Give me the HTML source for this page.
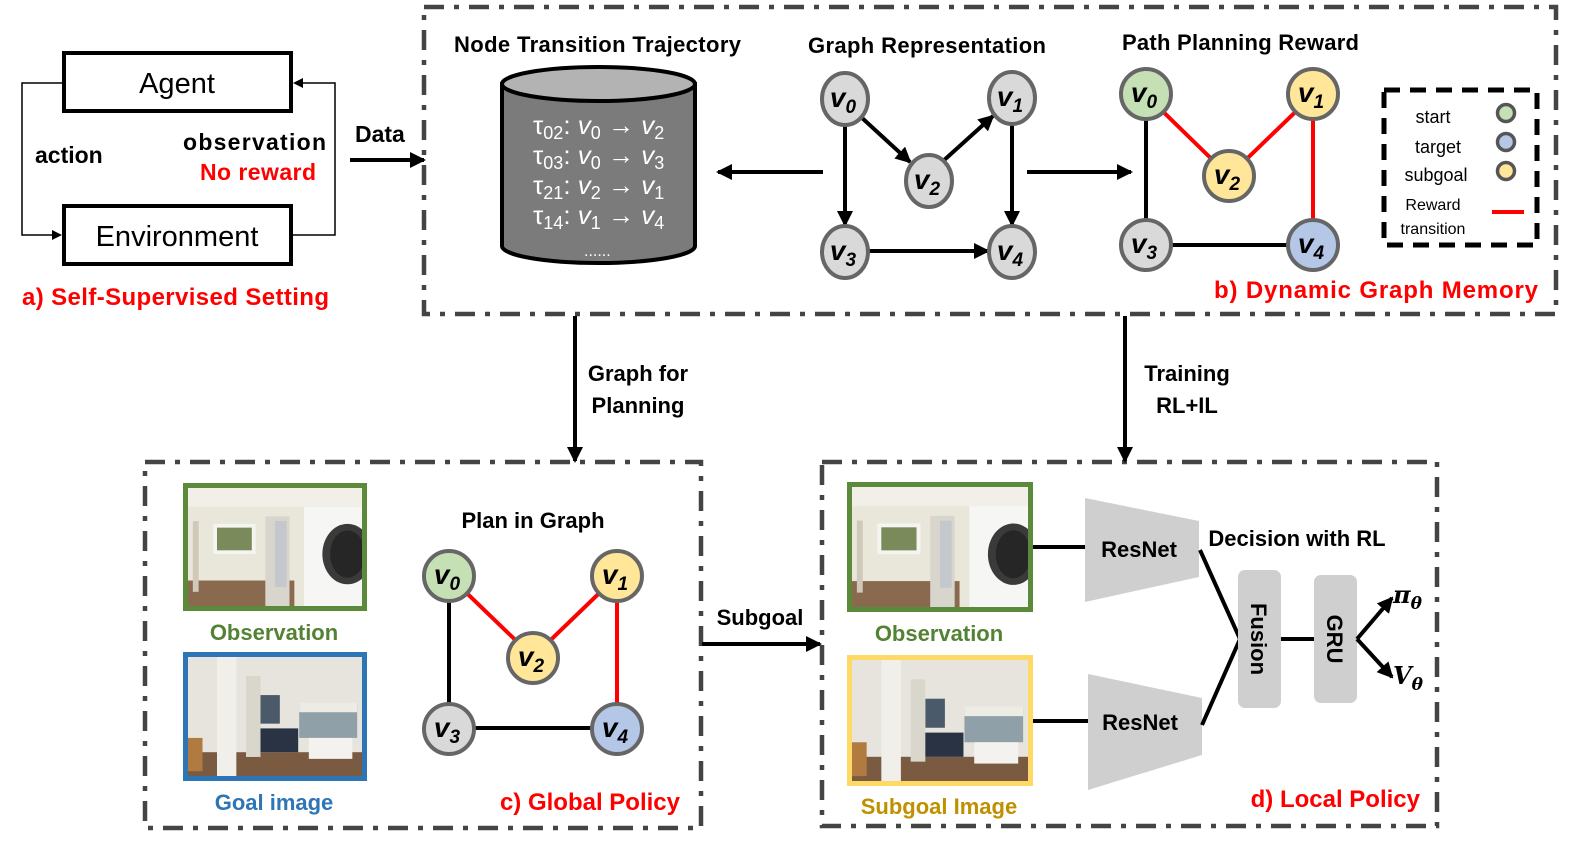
<!DOCTYPE html>
<html><head><meta charset="utf-8"><style>
html,body{margin:0;padding:0;background:#fff;}
svg{display:block;}
text{font-family:"Liberation Sans",sans-serif;}
.b{font-weight:bold;}
.nv{font-family:"DejaVu Serif","Liberation Serif",serif;font-style:italic;font-weight:bold;}
</style></head><body>
<svg width="1577" height="854" viewBox="0 0 1577 854" xmlns="http://www.w3.org/2000/svg">
<defs>
<marker id="ah" markerWidth="10" markerHeight="10" refX="8" refY="5" orient="auto" markerUnits="userSpaceOnUse">
<path d="M0,0 L10,5 L0,10 z" fill="#000"/></marker>
<marker id="ahb" markerWidth="16" markerHeight="16" refX="14" refY="8" orient="auto" markerUnits="userSpaceOnUse">
<path d="M0,0 L16,8 L0,16 z" fill="#000"/></marker>
<symbol id="obs" viewBox="0 0 180 125" preserveAspectRatio="none">
<rect width="180" height="125" fill="#e9e6da"/>
<rect x="0" y="0" width="180" height="20" fill="#f1efe8"/>
<rect x="0" y="98" width="110" height="27" fill="#8a6a4e"/>
<rect x="80" y="30" width="25" height="95" fill="#d8d6cc"/>
<rect x="90" y="35" width="12" height="70" fill="#c4c8cc"/>
<rect x="26" y="38" width="44" height="32" fill="#f4f4f0"/>
<rect x="30" y="42" width="36" height="24" fill="#7a8a5a"/>
<rect x="120" y="20" width="60" height="105" fill="#f6f6f4"/>
<ellipse cx="165" cy="70" rx="26" ry="32" fill="#3a3a3a"/>
<ellipse cx="165" cy="70" rx="18" ry="25" fill="#262626"/>
<rect x="5" y="35" width="6" height="75" fill="#d0c8b8"/>
</symbol>
<symbol id="goal" viewBox="0 0 180 125" preserveAspectRatio="none">
<rect width="180" height="125" fill="#e6e4dc"/>
<rect x="0" y="100" width="180" height="25" fill="#7a5a40"/>
<rect x="30" y="0" width="20" height="125" fill="#f0efea"/>
<rect x="0" y="85" width="15" height="35" fill="#b07a40"/>
<rect x="75" y="40" width="20" height="30" fill="#4a5a6a"/>
<rect x="115" y="50" width="60" height="35" fill="#8fa0a8"/>
<rect x="115" y="48" width="60" height="10" fill="#ecebe4"/>
<rect x="72" y="75" width="42" height="25" fill="#2a3344"/>
<rect x="125" y="85" width="45" height="22" fill="#f4f2ee"/>
<rect x="60" y="20" width="15" height="85" fill="#d9d6cc"/>
</symbol>
</defs>

<g fill="none" stroke="#444" stroke-width="4.5" stroke-dasharray="20 10 5 10">
<rect x="424" y="7" width="1132" height="307"/>
<rect x="145" y="462" width="556" height="366"/>
<rect x="822" y="462" width="615" height="364"/>
</g>

<!-- panel a -->
<rect x="64" y="53" width="227" height="58" fill="#fff" stroke="#000" stroke-width="4"/>
<text x="177" y="93" font-size="29" text-anchor="middle">Agent</text>
<rect x="64" y="206" width="227" height="58" fill="#fff" stroke="#000" stroke-width="4"/>
<text x="177" y="246" font-size="29" text-anchor="middle">Environment</text>
<polyline points="62,83 22,83 22,235 60,235" fill="none" stroke="#000" stroke-width="1.5" marker-end="url(#ah)"/>
<polyline points="293,235 335,235 335,83 295,83" fill="none" stroke="#000" stroke-width="1.5" marker-end="url(#ah)"/>
<text x="35" y="163" font-size="23" class="b">action</text>
<text x="183" y="150" font-size="23" class="b" textLength="143">observation</text>
<text x="200" y="180" font-size="23" class="b" fill="#f00" textLength="116">No reward</text>
<text x="22" y="305" font-size="24" class="b" fill="#f00" textLength="307">a) Self-Supervised Setting</text>
<line x1="350" y1="160" x2="424" y2="160" stroke="#000" stroke-width="4" marker-end="url(#ahb)"/>
<text x="355" y="142" font-size="23" class="b">Data</text>

<!-- panel b -->
<text x="454" y="52" font-size="22" class="b" textLength="287">Node Transition Trajectory</text>
<text x="808" y="53" font-size="22" class="b" textLength="238">Graph Representation</text>
<text x="1122" y="50" font-size="22" class="b" textLength="237">Path Planning Reward</text>
<path d="M502,84 L502,246 A96.5,17 0 0 0 695,246 L695,84 Z" fill="#7b7b7b" stroke="#000" stroke-width="4"/>
<ellipse cx="598.5" cy="84" rx="96.5" ry="17" fill="#b3b3b3" stroke="#000" stroke-width="4"/>
<g fill="#fff" font-family="Liberation Serif, serif" font-size="26">
<text x="533" y="134">τ<tspan font-size="18" dy="5">02</tspan><tspan dy="-5">: </tspan><tspan font-style="italic">v</tspan><tspan font-size="18" dy="5">0</tspan><tspan dy="-5"> → </tspan><tspan font-style="italic">v</tspan><tspan font-size="18" dy="5">2</tspan></text>
<text x="533" y="164">τ<tspan font-size="18" dy="5">03</tspan><tspan dy="-5">: </tspan><tspan font-style="italic">v</tspan><tspan font-size="18" dy="5">0</tspan><tspan dy="-5"> → </tspan><tspan font-style="italic">v</tspan><tspan font-size="18" dy="5">3</tspan></text>
<text x="533" y="194">τ<tspan font-size="18" dy="5">21</tspan><tspan dy="-5">: </tspan><tspan font-style="italic">v</tspan><tspan font-size="18" dy="5">2</tspan><tspan dy="-5"> → </tspan><tspan font-style="italic">v</tspan><tspan font-size="18" dy="5">1</tspan></text>
<text x="533" y="224">τ<tspan font-size="18" dy="5">14</tspan><tspan dy="-5">: </tspan><tspan font-style="italic">v</tspan><tspan font-size="18" dy="5">1</tspan><tspan dy="-5"> → </tspan><tspan font-style="italic">v</tspan><tspan font-size="18" dy="5">4</tspan></text>
<text x="584" y="256" font-size="16">......</text>
</g>
<line x1="823" y1="172" x2="718" y2="172" stroke="#000" stroke-width="4" marker-end="url(#ahb)"/>
<line x1="1027" y1="172" x2="1131" y2="172" stroke="#000" stroke-width="4" marker-end="url(#ahb)"/>

<g stroke="#000" stroke-width="4">
<line x1="845" y1="124" x2="845" y2="225" marker-end="url(#ahb)"/>
<line x1="861" y1="117" x2="910" y2="162" marker-end="url(#ahb)"/>
<line x1="942" y1="162" x2="993" y2="116" marker-end="url(#ahb)"/>
<line x1="1012" y1="124" x2="1012" y2="225" marker-end="url(#ahb)"/>
<line x1="868" y1="251" x2="988" y2="251" marker-end="url(#ahb)"/>
</g>
<g stroke="#666" stroke-width="4" fill="#d9d9d9">
<ellipse cx="845" cy="99" rx="23" ry="26"/>
<ellipse cx="1012" cy="98" rx="23" ry="26"/>
<ellipse cx="929" cy="181" rx="23" ry="26"/>
<ellipse cx="845" cy="252" rx="23" ry="26"/>
<ellipse cx="1012" cy="252" rx="23" ry="26"/>
</g>
<g class="nv" font-size="28" text-anchor="middle">
<text x="843" y="107">v<tspan font-size="19" dy="6">0</tspan></text>
<text x="1010" y="106">v<tspan font-size="19" dy="6">1</tspan></text>
<text x="927" y="189">v<tspan font-size="19" dy="6">2</tspan></text>
<text x="843" y="260">v<tspan font-size="19" dy="6">3</tspan></text>
<text x="1010" y="260">v<tspan font-size="19" dy="6">4</tspan></text>
</g>

<g stroke-width="4">
<line x1="1146" y1="95" x2="1146" y2="245" stroke="#000"/>
<line x1="1146" y1="245" x2="1313" y2="245" stroke="#000"/>
<line x1="1146" y1="95" x2="1229" y2="176" stroke="#f00"/>
<line x1="1229" y1="176" x2="1313" y2="95" stroke="#f00"/>
<line x1="1313" y1="95" x2="1313" y2="245" stroke="#f00"/>
</g>
<g stroke="#666" stroke-width="4">
<circle cx="1146" cy="94" r="25" fill="#c5e0b4"/>
<circle cx="1313" cy="94" r="25" fill="#ffe699"/>
<circle cx="1229" cy="176" r="25" fill="#ffe699"/>
<circle cx="1146" cy="245" r="25" fill="#d9d9d9"/>
<circle cx="1313" cy="245" r="25" fill="#b4c7e7"/>
</g>
<g class="nv" font-size="28" text-anchor="middle">
<text x="1144" y="102">v<tspan font-size="19" dy="6">0</tspan></text>
<text x="1311" y="102">v<tspan font-size="19" dy="6">1</tspan></text>
<text x="1227" y="184">v<tspan font-size="19" dy="6">2</tspan></text>
<text x="1144" y="253">v<tspan font-size="19" dy="6">3</tspan></text>
<text x="1311" y="253">v<tspan font-size="19" dy="6">4</tspan></text>
</g>
<rect x="1384" y="90" width="153" height="155" fill="none" stroke="#000" stroke-width="5" stroke-dasharray="16 10"/>
<g font-size="18" text-anchor="middle">
<text x="1433" y="123">start</text>
<text x="1438" y="153">target</text>
<text x="1436" y="181">subgoal</text>
<text x="1433" y="210" font-size="16">Reward</text>
<text x="1433" y="234" font-size="16">transition</text>
</g>
<g stroke="#555" stroke-width="3.5">
<circle cx="1506" cy="113" r="8.5" fill="#c5e0b4"/>
<circle cx="1506" cy="142" r="8.5" fill="#b4c7e7"/>
<circle cx="1506" cy="171" r="8.5" fill="#ffe699"/>
</g>
<line x1="1492" y1="212" x2="1524" y2="212" stroke="#f00" stroke-width="4"/>
<text x="1538" y="298" font-size="24" class="b" fill="#f00" text-anchor="end" textLength="324">b) Dynamic Graph Memory</text>

<line x1="575" y1="316" x2="575" y2="461" stroke="#000" stroke-width="4" marker-end="url(#ahb)"/>
<line x1="1125" y1="316" x2="1125" y2="461" stroke="#000" stroke-width="4" marker-end="url(#ahb)"/>
<text x="638" y="381" font-size="22" class="b" text-anchor="middle">Graph for</text>
<text x="638" y="413" font-size="22" class="b" text-anchor="middle">Planning</text>
<text x="1187" y="381" font-size="22" class="b" text-anchor="middle">Training</text>
<text x="1187" y="413" font-size="22" class="b" text-anchor="middle">RL+IL</text>

<!-- panel c -->
<rect x="183" y="483" width="184" height="128" fill="#5a8a3a"/>
<use href="#obs" x="188" y="488" width="174" height="118"/>
<text x="274" y="640" font-size="22" class="b" fill="#548235" text-anchor="middle">Observation</text>
<rect x="183" y="652" width="184" height="129" fill="#2e75b6"/>
<use href="#goal" x="188" y="657" width="174" height="119"/>
<text x="274" y="810" font-size="22" class="b" fill="#2e75b6" text-anchor="middle">Goal image</text>
<text x="533" y="528" font-size="22" class="b" text-anchor="middle">Plan in Graph</text>
<g stroke-width="4">
<line x1="449" y1="576" x2="449" y2="728" stroke="#000"/>
<line x1="449" y1="728" x2="617" y2="728" stroke="#000"/>
<line x1="449" y1="576" x2="533" y2="657" stroke="#f00"/>
<line x1="533" y1="657" x2="617" y2="576" stroke="#f00"/>
<line x1="617" y1="576" x2="617" y2="728" stroke="#f00"/>
</g>
<g stroke="#666" stroke-width="4">
<circle cx="449" cy="576" r="25" fill="#c5e0b4"/>
<circle cx="617" cy="576" r="25" fill="#ffe699"/>
<circle cx="533" cy="658" r="25" fill="#ffe699"/>
<circle cx="449" cy="729" r="25" fill="#d9d9d9"/>
<circle cx="617" cy="729" r="25" fill="#b4c7e7"/>
</g>
<g class="nv" font-size="28" text-anchor="middle">
<text x="447" y="584">v<tspan font-size="19" dy="6">0</tspan></text>
<text x="615" y="584">v<tspan font-size="19" dy="6">1</tspan></text>
<text x="531" y="666">v<tspan font-size="19" dy="6">2</tspan></text>
<text x="447" y="737">v<tspan font-size="19" dy="6">3</tspan></text>
<text x="615" y="737">v<tspan font-size="19" dy="6">4</tspan></text>
</g>
<text x="680" y="810" font-size="24" class="b" fill="#f00" text-anchor="end">c) Global Policy</text>
<line x1="702" y1="644" x2="820" y2="644" stroke="#000" stroke-width="4" marker-end="url(#ahb)"/>
<text x="760" y="625" font-size="22" class="b" text-anchor="middle">Subgoal</text>

<!-- panel d -->
<rect x="847" y="482" width="186" height="130" fill="#5a8a3a"/>
<use href="#obs" x="852" y="487" width="176" height="120"/>
<text x="939" y="641" font-size="22" class="b" fill="#548235" text-anchor="middle">Observation</text>
<rect x="847" y="655" width="186" height="131" fill="#ffd966"/>
<use href="#goal" x="852" y="660" width="176" height="121"/>
<text x="939" y="814" font-size="22" class="b" fill="#bf9000" text-anchor="middle">Subgoal Image</text>
<line x1="1033" y1="547" x2="1085" y2="547" stroke="#000" stroke-width="4"/>
<line x1="1033" y1="721" x2="1088" y2="721" stroke="#000" stroke-width="4"/>
<polygon points="1085,498 1199,521 1199,577 1085,602" fill="#d0cfcf"/>
<polygon points="1088,674 1202,698 1202,755 1088,790" fill="#d0cfcf"/>
<text x="1139" y="557" font-size="22" class="b" text-anchor="middle">ResNet</text>
<text x="1140" y="730" font-size="22" class="b" text-anchor="middle">ResNet</text>
<text x="1297" y="546" font-size="22" class="b" text-anchor="middle">Decision with RL</text>
<polyline points="1200,550 1240,639 1202,725" fill="none" stroke="#000" stroke-width="4"/>
<rect x="1238" y="570" width="43" height="138" rx="7" fill="#d0cfcf"/>
<rect x="1314" y="575" width="43" height="128" rx="7" fill="#d0cfcf"/>
<line x1="1281" y1="639" x2="1314" y2="639" stroke="#000" stroke-width="4"/>
<text transform="translate(1251,639) rotate(90)" font-size="22" class="b" text-anchor="middle">Fusion</text>
<text transform="translate(1327,639) rotate(90)" font-size="22" class="b" text-anchor="middle">GRU</text>
<line x1="1357" y1="639" x2="1392" y2="598" stroke="#000" stroke-width="4" marker-end="url(#ahb)"/>
<line x1="1357" y1="639" x2="1392" y2="677" stroke="#000" stroke-width="4" marker-end="url(#ahb)"/>
<text x="1393" y="603" font-size="24" class="nv">π<tspan font-size="17" dy="6">θ</tspan></text>
<text x="1393" y="684" font-size="24" class="nv">V<tspan font-size="17" dy="6">θ</tspan></text>
<text x="1420" y="807" font-size="24" class="b" fill="#f00" text-anchor="end">d) Local Policy</text>
</svg>
</body></html>
